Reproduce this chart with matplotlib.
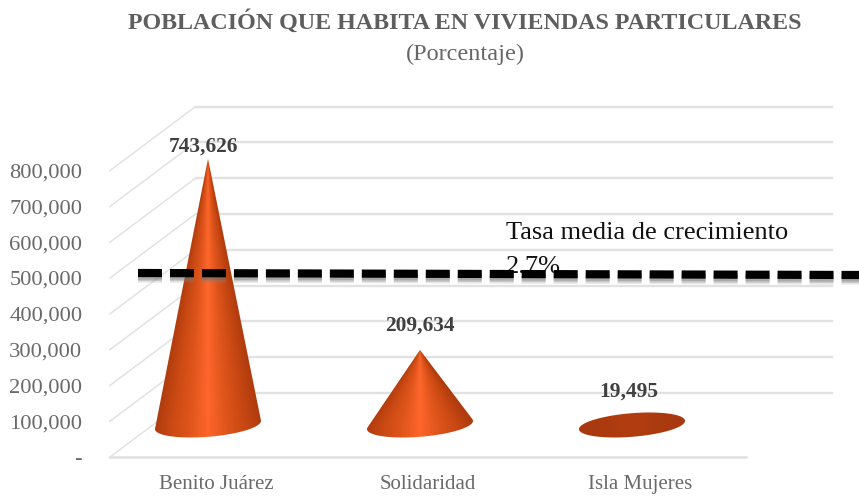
import numpy as np
import matplotlib
matplotlib.use("Agg")
import matplotlib.pyplot as plt
from matplotlib.colors import LinearSegmentedColormap
from matplotlib.lines import Line2D
from matplotlib.patches import Polygon

categories = ["Benito Juárez", "Solidaridad", "Isla Mujeres"]
values = [743626, 209634, 19495]
yticks = [0, 100000, 200000, 300000, 400000, 500000, 600000, 700000, 800000]
ytick_labels = ["-", "100,000", "200,000", "300,000", "400,000", "500,000",
                "600,000", "700,000", "800,000"]
title = "POBLACIÓN QUE HABITA EN VIVIENDAS PARTICULARES"
subtitle = "(Porcentaje)"
note_lines = ["Tasa media de crecimiento", "2.7%"]

W, H = 859, 496
plt.rcParams["font.family"] = ["Liberation Serif", "DejaVu Serif"]
fig = plt.figure(figsize=(W / 100, H / 100), dpi=100)
ax = fig.add_axes([110 / W, (H - 457) / H, 636 / W, 286.4 / H])
ax.set_facecolor("none")

XMIN, XMAX, YMAX = -0.5, 2.5, 800000
DX, DY = 85.5 / 212, 178800  # depth shift of the back wall, data units

# walls and floor
GRID = "#E2E2E2"
for v in yticks:
    ax.plot([XMIN, XMIN + DX], [v, v + DY], color=GRID, lw=1.1, clip_on=False, zorder=1)
    ax.plot([XMIN + DX, XMAX + DX], [v + DY, v + DY], color=GRID, lw=1.7, clip_on=False, zorder=1)
ax.plot([XMIN, XMAX], [0, 0], color=GRID, lw=1.9, clip_on=False, zorder=1)

# cones
CONE_SHIFT = -8 / 212
HALF_W = 53 / 212
B, TILT = 33000, 11500
BASE = 0.5 * DY
light = LinearSegmentedColormap.from_list(
    "c", ["#B03C0E", "#CC4A14", "#E0561C", "#FF662B", "#E0561C", "#C94813", "#B03C0E"])
dark = LinearSegmentedColormap.from_list("d", ["#A8380F", "#B23D10", "#A8380F"])


def hull(pts):
    s = sorted(map(tuple, pts))

    def half(seq):
        out = []
        for p in seq:
            while len(out) > 1:
                a, b = out[-2], out[-1]
                if (b[0] - a[0]) * (p[1] - a[1]) - (b[1] - a[1]) * (p[0] - a[0]) <= 0:
                    out.pop()
                else:
                    break
            out.append(p)
        return out[:-1]
    return np.array(half(s) + half(s[::-1]))


label_offsets = [(-5, 12), (0, 24), (-3, 26)]
for i, v in enumerate(values):
    cx = i + CONE_SHIFT
    t = np.linspace(0, 2 * np.pi, 180, endpoint=False)
    ex = cx + HALF_W * np.cos(t)
    ey = BASE + B * np.sin(t) + TILT * np.cos(t)
    tip = (cx, BASE + v)
    h = hull(np.vstack([np.column_stack([ex, ey]), [tip]]))
    flat = v < B
    y0, y1 = BASE - 2 * B, BASE + max(v, 2 * B)
    xs = np.linspace(-1, 1, 300)
    ys = np.linspace(y0, y1, 500)
    frac = np.clip(1 - (ys - BASE) / max(v, 1), 0.02, 1)
    if flat:
        frac = np.ones_like(ys)
    shade = 0.5 + 0.5 * np.clip(xs[None, :] / frac[:, None], -1, 1)
    im = ax.imshow(shade, extent=[cx - HALF_W, cx + HALF_W, y0, y1], origin="lower",
                   aspect="auto", cmap=dark if flat else light, vmin=0, vmax=1, zorder=3,
                   interpolation="bilinear")
    im.set_clip_path(Polygon(h, closed=True, transform=ax.transData))
    im.set_clip_box(fig.bbox)
    ax.annotate(f"{v:,}", xy=tip, xytext=label_offsets[i], textcoords="offset pixels",
                ha="center", va="center", fontsize=15.4, fontweight="bold",
                color="#404040", zorder=6, annotation_clip=False)

ax.set_xlim(XMIN, XMAX)
ax.set_ylim(0, YMAX)
ax.set_xticks(range(len(categories)), categories)
ax.set_yticks(yticks, ytick_labels)
ax.tick_params(axis="both", length=0, colors="#6A6A6A")
ax.tick_params(axis="y", pad=20, labelsize=16.2)
ax.tick_params(axis="x", pad=13, labelsize=15)
for s in ax.spines.values():
    s.set_visible(False)

fig.text(465 / W, 1 - 22 / H, title, ha="center", va="center", fontsize=17.3,
         fontweight="bold", color="#5E5E5E")
fig.text(465 / W, 1 - 54 / H, subtitle, ha="center", va="center", fontsize=17.5, color="#666666")
fig.text(506 / W, 1 - 233 / H, note_lines[0], ha="left", va="center", fontsize=19, color="#111111", zorder=2)
fig.text(506 / W, 1 - 267 / H, note_lines[1], ha="left", va="center", fontsize=19, color="#111111", zorder=2)

# dashed annotation line with a soft shadow
DASH = (24 / 8.2, 8 / 8.2)
for off, col, alpha in [(5.5, "#888888", 0.20), (4.0, "#777777", 0.28), (2.5, "#666666", 0.30)]:
    fig.add_artist(Line2D([138 / W, 859 / W], [1 - (273 + off) / H, 1 - (275 + off) / H],
                          transform=fig.transFigure, color=col, alpha=alpha, lw=5.9,
                          dashes=DASH, dash_capstyle="butt", zorder=4))
fig.add_artist(Line2D([138 / W, 859 / W], [1 - 273 / H, 1 - 275 / H], transform=fig.transFigure,
                      color="black", lw=5.9, dashes=DASH, dash_capstyle="butt", zorder=5))

fig.savefig("out.png", dpi=100)
